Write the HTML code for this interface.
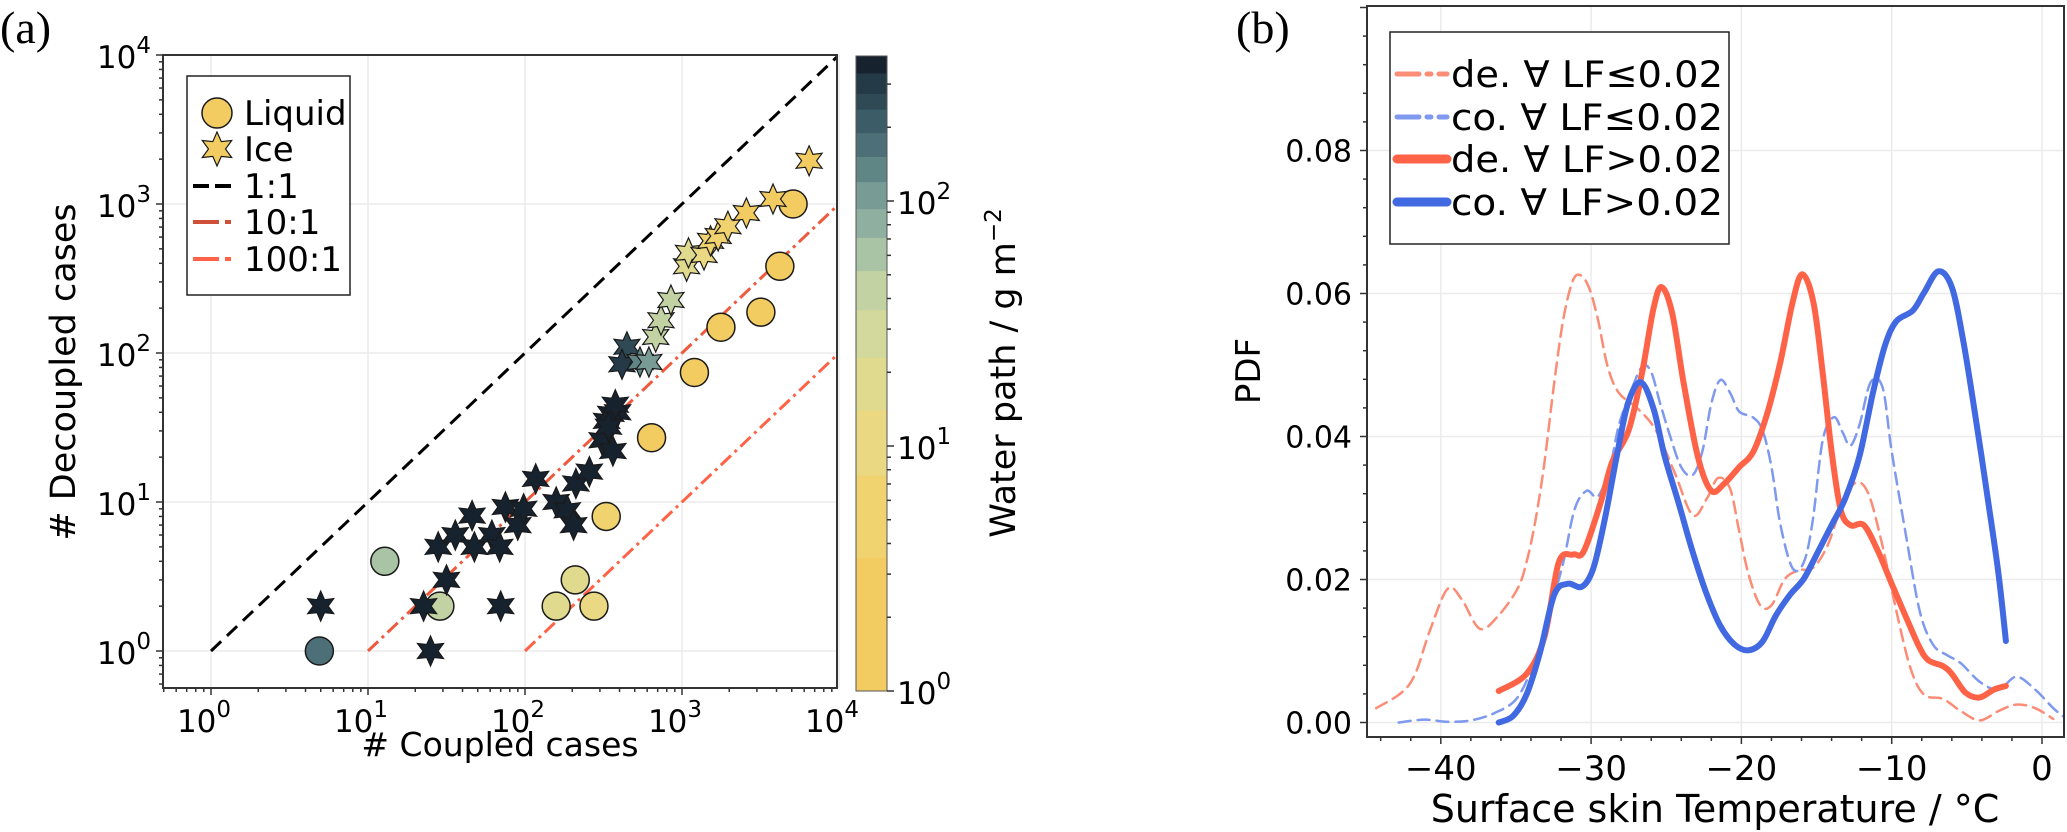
<!DOCTYPE html>
<html><head><meta charset="utf-8"><style>
html,body{margin:0;padding:0;background:#fff;}
svg{display:block;font-family:"DejaVu Sans","Liberation Sans",sans-serif;}
</style></head><body>
<svg id="fig" width="2067" height="832" viewBox="0 0 2067 832" xmlns="http://www.w3.org/2000/svg">
<defs>
<clipPath id="clipA"><rect x="163" y="55" width="674" height="633"/></clipPath>
<clipPath id="clipB"><rect x="1367" y="6" width="697" height="731"/></clipPath>
</defs>
<text x="0" y="43" font-family="Liberation Serif, serif" font-size="46">(a)</text>
<text x="1236" y="43" font-family="Liberation Serif, serif" font-size="46">(b)</text>
<g id="panelA"></g>
<g id="cbar"></g>
<g id="panelB"></g>
</svg>
<script>
// ---------- Panel (a) data ----------
const liquidX = [4.9, 12.8, 28.7, 158, 209, 275, 329, 640, 1200, 1770, 3180, 4200, 5100];
const liquidY = [1, 4, 2, 2, 3, 2, 8, 27, 74, 149, 188, 382, 1000];
const liquidWP = [165, 60, 45, 18, 18, 10, 5, 3, 2, 2, 2, 2, 2];
const iceX = [5, 25, 22.6, 31.6, 70, 28, 36, 46, 47.6, 61.5, 69, 75, 90, 98, 117, 158, 186, 204, 211, 257, 310, 363, 331, 389, 352, 340, 376,
  446, 415, 540, 615, 680, 735, 850, 1070, 1100, 1380, 1520, 1700, 1960, 2570, 3800, 6450];
const iceY = [2, 1, 2, 3, 2, 5, 6, 8.1, 5, 6, 5, 9.25, 7, 9, 14.3, 10, 8.8, 7, 13.3, 16, 26, 22, 35, 40, 39, 32, 45,
  110, 84, 87, 87, 128, 166, 227, 382, 470, 455, 565, 610, 710, 870, 1080, 1950];
const iceWP = [350, 350, 350, 350, 350, 350, 350, 350, 350, 350, 350, 350, 350, 350, 350, 350, 350, 350, 350, 350, 350, 350, 350, 350, 350, 350, 350,
  250, 300, 140, 110, 45, 45, 45, 18, 18, 10, 4, 4, 4, 2, 2, 2];
const ratios = [1, 10, 100];
const xTickExp = [0, 1, 2, 3, 4];
const yTickExp = [0, 1, 2, 3, 4];
const cbarBounds = [1, 3.5, 7.6, 14, 23, 36, 52, 71, 93, 120, 152, 190, 237, 275, 333, 390];
const cbarColors = ['#f3cc61', '#f0d26f', '#ebd882', '#e0da8e', '#d3d99c', '#c3d2a3', '#a9c4a5', '#8fb0a0', '#789b96', '#5f8585', '#4d7078', '#3c5d68', '#2f4a55', '#253a47', '#17222f'];
const cbarTickExp = [0, 1, 2];

// ---------- Panel (b) data ----------
const deLowT = [-44.3,-42.6,-41.7,-40.75,-39.55,-38.6,-37.4,-36.15,-34.9,-34.3,-33.7,-33.1,-32.45,-31.85,-31.25,-30.75,-30.15,-29.55,-28.9,-28.15,-26.9,-25.7,-24.45,-23.25,-22.3,-21.55,-20.75,-20.15,-19.55,-18.75,-18.0,-17.1,-16.15,-15.25,-14.3,-13.4,-12.45,-11.55,-10.6,-9.7,-8.75,-7.85,-6.6,-5.4,-4.15,-2.9,-1.7,-0.45,0.75];
const deLowP = [0.002,0.0042,0.0068,0.0127,0.0187,0.0172,0.0131,0.015,0.0187,0.0224,0.0283,0.0364,0.0476,0.0564,0.0616,0.0626,0.0609,0.0564,0.0498,0.0461,0.0439,0.0409,0.035,0.029,0.0313,0.0342,0.0327,0.0268,0.0209,0.0164,0.0164,0.0201,0.0213,0.0216,0.0246,0.0298,0.0335,0.032,0.0246,0.0157,0.0076,0.0039,0.0033,0.0016,0.0003,0.0016,0.0025,0.002,0.0005];
const coLowT = [-42.8,-41.1,-39.55,-38.0,-36.45,-34.9,-33.7,-32.75,-31.85,-31.1,-30.3,-29.55,-28.75,-28.15,-27.4,-26.6,-26.0,-25.4,-24.75,-24.0,-23.25,-22.6,-22.0,-21.4,-20.75,-20.15,-19.25,-18.6,-18.0,-17.4,-16.6,-15.85,-15.25,-14.6,-13.85,-13.25,-12.75,-12.15,-11.4,-10.6,-10.0,-9.1,-8.15,-7.25,-6.3,-5.4,-4.15,-2.9,-1.7,-0.45,0.75,1.4];
const coLowP = [0,0.0004,0.0001,0.0003,0.0013,0.0035,0.009,0.0157,0.0224,0.0298,0.0324,0.0316,0.0357,0.0416,0.0461,0.0498,0.049,0.0446,0.0401,0.0357,0.0346,0.0379,0.0446,0.0479,0.0461,0.0435,0.0427,0.0409,0.0357,0.0276,0.0216,0.0224,0.0283,0.0394,0.0427,0.0405,0.0387,0.0416,0.0476,0.0468,0.0379,0.0268,0.0157,0.0109,0.0094,0.0083,0.0057,0.0046,0.0064,0.0046,0.002,0.0009];
const deHighT = [-36.15,-34.3,-33.1,-32.15,-31.2,-30.5,-29.4,-28.6,-27.5,-26.6,-25.85,-25.3,-24.6,-23.85,-22.9,-22.0,-21.1,-20.15,-19.2,-18.3,-17.4,-16.6,-15.95,-15.2,-14.6,-14.0,-13.4,-12.75,-11.85,-10.9,-10.0,-9.1,-8.15,-7.55,-6.6,-6.0,-5.1,-4.15,-3.2,-2.4];
const deHighP = [0.0044,0.0068,0.012,0.0224,0.0235,0.0239,0.0305,0.0364,0.0409,0.049,0.0579,0.0609,0.0572,0.0476,0.0372,0.0324,0.0335,0.0357,0.0379,0.0431,0.0505,0.0587,0.0627,0.0587,0.049,0.0379,0.0298,0.0276,0.0276,0.0239,0.0194,0.015,0.0105,0.0087,0.0079,0.0068,0.0042,0.0035,0.0046,0.0051];
const coHighT = [-36.15,-35.2,-34.3,-33.4,-32.45,-31.55,-30.6,-29.85,-29.1,-28.3,-27.55,-26.7,-25.85,-25.1,-24.15,-23.25,-22.3,-21.4,-20.45,-19.55,-18.6,-17.7,-16.75,-15.85,-14.9,-14.0,-13.1,-12.15,-11.25,-10.45,-9.7,-8.6,-7.85,-6.9,-6.0,-5.25,-4.45,-3.55,-2.9,-2.4];
const coHighP = [0,0.0009,0.0039,0.0098,0.0179,0.0194,0.019,0.0216,0.0283,0.0372,0.0446,0.0476,0.0439,0.0372,0.0305,0.0239,0.0179,0.0135,0.0109,0.0101,0.0113,0.015,0.0179,0.0201,0.0239,0.0276,0.0313,0.0372,0.0461,0.0527,0.0561,0.0576,0.0601,0.0631,0.0609,0.0535,0.0431,0.0305,0.0209,0.0114];
const bXTicks = [-40, -30, -20, -10, 0];
const bXTickLabels = ['\u221240', '\u221230', '\u221220', '\u221210', '0'];
const bYTicks = [0, 0.02, 0.04, 0.06, 0.08];
const bYTickLabels = ['0.00', '0.02', '0.04', '0.06', '0.08'];

const NS = 'http://www.w3.org/2000/svg';
function mk(tag, attrs, parent) {
  const e = document.createElementNS(NS, tag);
  for (const k in attrs) e.setAttribute(k, attrs[k]);
  parent.appendChild(e);
  return e;
}
// ---------- scales ----------
const xa = v => 211 + 157 * Math.log10(v);
const ya = v => 651 - 149 * Math.log10(v);
const yc = v => 691 - 245 * Math.log10(v);
const xb = t => 2042 + 15.03 * t;
const yb = p => 722.5 - p * 7150;

function wpColor(w) {
  for (let i = 0; i < cbarColors.length; i++) if (w <= cbarBounds[i + 1]) return cbarColors[i];
  return cbarColors[cbarColors.length - 1];
}
function starPath(cx, cy, R) {
  const r = R * 0.5; let d = '';
  for (let i = 0; i < 12; i++) {
    const a = -Math.PI / 2 + i * Math.PI / 6; const rr = i % 2 ? r : R;
    d += (i ? 'L' : 'M') + (cx + rr * Math.cos(a)).toFixed(1) + ',' + (cy + rr * Math.sin(a)).toFixed(1);
  }
  return d + 'Z';
}
function smooth(pts) {
  let d = 'M' + pts[0][0].toFixed(1) + ',' + pts[0][1].toFixed(1);
  for (let i = 0; i < pts.length - 1; i++) {
    const p0 = pts[i - 1] || pts[i], p1 = pts[i], p2 = pts[i + 1], p3 = pts[i + 2] || p2;
    const c1 = [p1[0] + (p2[0] - p0[0]) / 6, p1[1] + (p2[1] - p0[1]) / 6];
    const c2 = [p2[0] - (p3[0] - p1[0]) / 6, p2[1] - (p3[1] - p1[1]) / 6];
    d += 'C' + c1.map(v => v.toFixed(1)) + ' ' + c2.map(v => v.toFixed(1)) + ' ' + p2[0].toFixed(1) + ',' + p2[1].toFixed(1);
  }
  return d;
}

// ---------- Panel A ----------
const A = document.getElementById('panelA');
xTickExp.forEach(e => { const g = mk('line', {x1: xa(Math.pow(10, e)), x2: xa(Math.pow(10, e)), y1: 55, y2: 688, stroke: '#ebebeb', 'stroke-width': 1.5}, A);
    });
yTickExp.forEach(e => { const g = mk('line', {x1: 163, x2: 837, y1: ya(Math.pow(10, e)), y2: ya(Math.pow(10, e)), stroke: '#ebebeb', 'stroke-width': 1.5}, A);
    });
const ratioStyles = [{c: '#000', d: '14,8'}, {c: '#ee5a3e', d: '14,5,3,5'}, {c: '#ff6347', d: '14,5,3,5'}];
ratios.forEach((r, i) => {
  const l = mk('line', {x1: xa(r), y1: ya(1), x2: xa(10000), y2: ya(10000 / r), stroke: ratioStyles[i].c, 'stroke-width': 3, 'stroke-dasharray': ratioStyles[i].d, 'clip-path': 'url(#clipA)'}, A);
   
});
liquidX.forEach((x, i) => {
  const c = mk('circle', {cx: xa(x), cy: ya(liquidY[i]), r: 14, fill: wpColor(liquidWP[i]), stroke: '#1a1a1a', 'stroke-width': 1.5}, A);
   
});
iceX.forEach((x, i) => {
  const s = mk('path', {d: starPath(xa(x), ya(iceY[i]), 15), fill: wpColor(iceWP[i]), stroke: '#1a1a1a', 'stroke-width': 1.2}, A);
   
});
const fa = mk('rect', {x: 163, y: 55, width: 674, height: 633, fill: 'none', stroke: '#333', 'stroke-width': 2}, A);
 
for (let e = -1; e <= 4; e++) for (let m = 1; m < 10; m++) {
  const v = m * Math.pow(10, e);
  const X = xa(v); if (X >= 163 && X <= 837) mk('line', {x1: X, x2: X, y1: 688, y2: 688 + (m === 1 ? 7 : 4), stroke: '#333', 'stroke-width': 1.5}, A);
  const Y = ya(v); if (Y >= 55 && Y <= 688) mk('line', {x1: 163, x2: 163 - (m === 1 ? 7 : 4), y1: Y, y2: Y, stroke: '#333', 'stroke-width': 1.5}, A);
}
xTickExp.forEach(e => {
  const t = mk('text', {x: xa(Math.pow(10, e)) - 7, y: 732, 'font-size': 31, 'text-anchor': 'middle'}, A);
  t.innerHTML = '10<tspan dy="-15" font-size="23">' + e + '</tspan>';
   
});
yTickExp.forEach(e => {
  const t = mk('text', {x: 151, y: ya(Math.pow(10, e)) + 13, 'font-size': 31, 'text-anchor': 'end'}, A);
  t.innerHTML = '10<tspan dy="-15" font-size="23">' + e + '</tspan>';
   
});
const xl = mk('text', {x: 500, y: 756, 'font-size': 33, 'text-anchor': 'middle'}, A);
xl.textContent = '# Coupled cases';
 
const yl = mk('text', {x: 0, y: 0, 'font-size': 35, 'text-anchor': 'middle', transform: 'translate(75,372) rotate(-90)'}, A);
yl.textContent = '# Decoupled cases';
 
const LA = mk('g', {}, A);
 
mk('rect', {x: 187, y: 76, width: 163, height: 219, fill: '#fff', stroke: '#222', 'stroke-width': 1.5}, LA);
mk('circle', {cx: 217, cy: 113, r: 15, fill: '#f3cc61', stroke: '#1a1a1a', 'stroke-width': 1.5}, LA);
mk('path', {d: starPath(217, 149, 17), fill: '#f3cc61', stroke: '#1a1a1a', 'stroke-width': 1.2}, LA);
mk('line', {x1: 193, x2: 237, y1: 186, y2: 186, stroke: '#000', 'stroke-width': 4, 'stroke-dasharray': '16,6'}, LA);
mk('line', {x1: 193, x2: 237, y1: 222, y2: 222, stroke: '#cf5038', 'stroke-width': 4, 'stroke-dasharray': '26,6,6,6'}, LA);
mk('line', {x1: 193, x2: 237, y1: 259, y2: 259, stroke: '#ff6347', 'stroke-width': 4, 'stroke-dasharray': '26,6,6,6'}, LA);
[['Liquid', 113], ['Ice', 149], ['1:1', 186], ['10:1', 222], ['100:1', 259]].forEach(([s, y]) => {
  const t = mk('text', {x: 244, y: y + 12, 'font-size': 34}, LA); t.textContent = s;
   
});

// ---------- Colorbar ----------
const C = document.getElementById('cbar');
cbarColors.forEach((col, i) => {
  const r = mk('rect', {x: 856, y: yc(cbarBounds[i + 1]), width: 31, height: yc(cbarBounds[i]) - yc(cbarBounds[i + 1]) + 0.5, fill: col}, C);
   
});
mk('rect', {x: 856, y: 56, width: 31, height: 635, fill: 'none', stroke: '#555', 'stroke-width': 1}, C);
for (let e = 0; e <= 2; e++) for (let m = 1; m < 10; m++) {
  const v = m * Math.pow(10, e); const Y = yc(v);
  if (Y >= 55 && Y <= 692) mk('line', {x1: 887, x2: 887 + (m === 1 ? 7 : 4), y1: Y, y2: Y, stroke: '#333', 'stroke-width': 1.5}, C);
}
cbarTickExp.forEach(e => {
  const t = mk('text', {x: 897, y: yc(Math.pow(10, e)) + 13, 'font-size': 31}, C);
  t.innerHTML = '10<tspan dy="-15" font-size="23">' + e + '</tspan>';
   
});
const cl = mk('text', {x: 0, y: 0, 'font-size': 35, 'text-anchor': 'middle', transform: 'translate(1015,373) rotate(-90)'}, C);
cl.innerHTML = 'Water path / g m<tspan dy="-14" font-size="23">\u22122</tspan>';
 

// ---------- Panel B ----------
const B = document.getElementById('panelB');
bXTicks.forEach(t => { const g = mk('line', {x1: xb(t), x2: xb(t), y1: 6, y2: 737, stroke: '#ebebeb', 'stroke-width': 1.5}, B);
    });
bYTicks.forEach(p => { const g = mk('line', {x1: 1367, x2: 2064, y1: yb(p), y2: yb(p), stroke: '#ebebeb', 'stroke-width': 1.5}, B);
    });
const series = [
  {T: deLowT, P: deLowP, c: '#fb8c76', w: 2.5, d: '12,7', n: 'line-de-lf-low'},
  {T: coLowT, P: coLowP, c: '#7f99ef', w: 2.5, d: '12,7', n: 'line-co-lf-low'},
  {T: deHighT, P: deHighP, c: '#ff6347', w: 6, d: '', n: 'line-de-lf-high'},
  {T: coHighT, P: coHighP, c: '#4169e1', w: 6, d: '', n: 'line-co-lf-high'}
];
series.forEach(s => {
  const pts = s.T.map((t, i) => [xb(t), yb(s.P[i])]);
  const p = mk('path', {d: smooth(pts), fill: 'none', stroke: s.c, 'stroke-width': s.w, 'stroke-linecap': 'round', 'stroke-linejoin': 'round', 'clip-path': 'url(#clipB)'}, B);
  if (s.d) p.setAttribute('stroke-dasharray', s.d);
   
});
const fb = mk('rect', {x: 1367, y: 6, width: 697, height: 731, fill: 'none', stroke: '#333', 'stroke-width': 2}, B);
 
for (let t = -44; t <= 1; t += 2) { const X = xb(t); mk('line', {x1: X, x2: X, y1: 737, y2: 737 + (t % 10 === 0 ? 7 : 4), stroke: '#333', 'stroke-width': 1.5}, B); }
for (let k = 0; k <= 25; k++) { const p = k * 0.004; const Y = yb(p); if (Y >= 6) mk('line', {x1: 1367, x2: 1367 - (k % 5 === 0 ? 7 : 4), y1: Y, y2: Y, stroke: '#333', 'stroke-width': 1.5}, B); }
bXTicks.forEach((t, i) => {
  const e = mk('text', {x: xb(t), y: 780, 'font-size': 34, 'text-anchor': 'middle'}, B); e.textContent = bXTickLabels[i];
   
});
bYTicks.forEach((p, i) => {
  const e = mk('text', {x: 1352, y: yb(p) + 11, 'font-size': 30, 'text-anchor': 'end'}, B); e.textContent = bYTickLabels[i];
   
});
const bxl = mk('text', {x: 1715, y: 822, 'font-size': 38, 'text-anchor': 'middle'}, B);
bxl.textContent = 'Surface skin Temperature / \u00b0C';
 
const byl = mk('text', {x: 0, y: 0, 'font-size': 34, 'text-anchor': 'middle', transform: 'translate(1260,371) rotate(-90)'}, B);
byl.textContent = 'PDF';
 
const LB = mk('g', {}, B);
 
mk('rect', {x: 1390, y: 32, width: 339, height: 212, fill: '#fff', stroke: '#222', 'stroke-width': 1.5}, LB);
const legB = [['de. \u2200 LF\u22640.02', '#fb8c76', 5, '22,8,4,8', 74], ['co. \u2200 LF\u22640.02', '#7f99ef', 5, '22,8,4,8', 117],
  ['de. \u2200 LF>0.02', '#ff6347', 9, '', 159], ['co. \u2200 LF>0.02', '#4169e1', 9, '', 202]];
legB.forEach(([s, c, w, d, y]) => {
  const l = mk('line', {x1: 1397, x2: 1447, y1: y, y2: y, stroke: c, 'stroke-width': w, 'stroke-linecap': 'round'}, LB);
  if (d) l.setAttribute('stroke-dasharray', d);
   
  const t = mk('text', {x: 1451, y: y + 13, 'font-size': 36.5, textLength: 272, lengthAdjust: 'spacingAndGlyphs'}, LB); t.textContent = s;
   
});
</script>
</body></html>
